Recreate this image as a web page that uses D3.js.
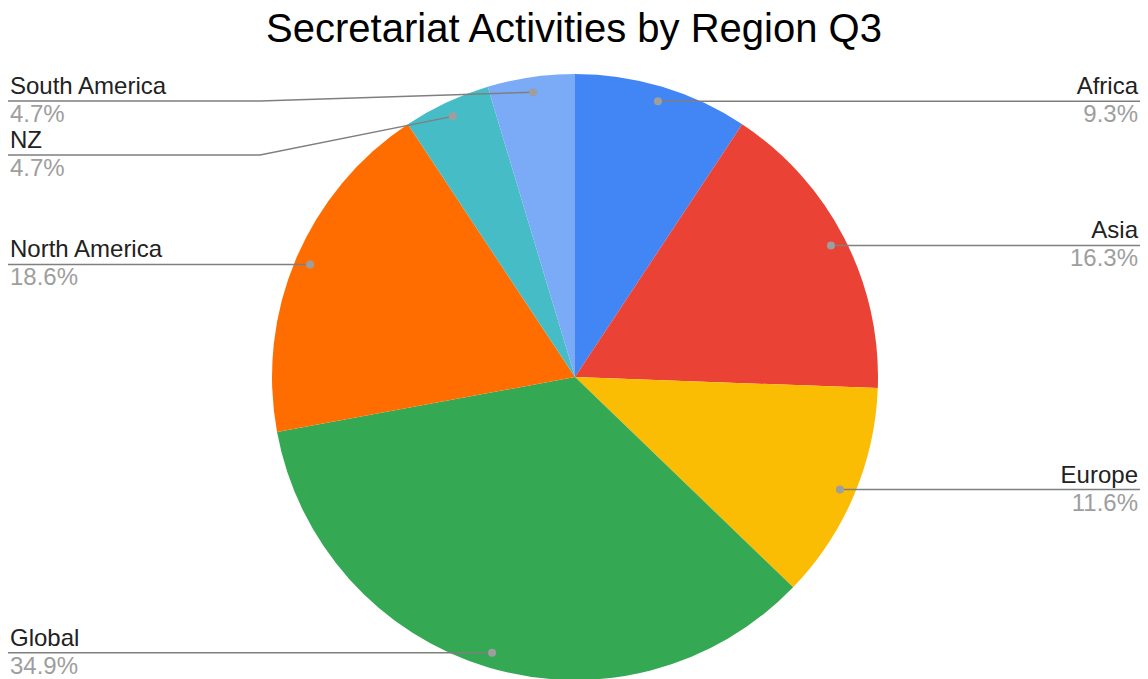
<!DOCTYPE html>
<html>
<head>
<meta charset="utf-8">
<script src="https://cdn.jsdelivr.net/npm/d3@7"></script>
<style>
  html, body { margin: 0; padding: 0; background: #fff; }
  svg { display: block; font-family: "Liberation Sans", Arial, sans-serif; }
</style>
</head>
<body>
<div id="chart"></div>
<script>
const regions = ['Africa', 'Asia', 'Europe', 'Global', 'North America', 'NZ', 'South America'];
const counts = [4, 7, 5, 15, 8, 2, 2];
const colors = ['#4285F4', '#EA4335', '#FBBC04', '#34A853', '#FF6D01', '#46BDC6', '#7BAAF7'];

const width = 1148;
const height = 679;
const cx = 575, cy = 377, radius = 303;

const svg = d3.select('#chart').append('svg')
  .attr('width', width)
  .attr('height', height);

svg.append('text')
  .attr('x', 574)
  .attr('y', 42)
  .attr('text-anchor', 'middle')
  .attr('font-size', 40)
  .attr('fill', '#000')
  .text('Secretariat Activities by Region Q3');

const data = regions.map((r, i) => ({ region: r, value: counts[i], color: colors[i] }));
const total = d3.sum(counts);

const pie = d3.pie().sort(null).value(d => d.value);
const arcs = pie(data);

const arc = d3.arc().innerRadius(0).outerRadius(radius);
const dotArc = d3.arc().innerRadius(radius * 0.95).outerRadius(radius * 0.95);

const g = svg.append('g').attr('transform', `translate(${cx},${cy})`);

g.selectAll('path.slice')
  .data(arcs)
  .join('path')
  .attr('class', 'slice')
  .attr('d', arc)
  .attr('fill', d => d.data.color);

// label layout: left / right columns, pushed down to avoid overlap
const fmt = d => (d.value / total * 100).toFixed(1) + '%';
const labels = arcs.map(d => {
  const [dx, dy] = dotArc.centroid(d);
  const mid = (d.startAngle + d.endAngle) / 2;
  return { d, x: cx + dx, y: cy + dy, side: mid > Math.PI ? 'left' : 'right' };
});

['left', 'right'].forEach(side => {
  const list = labels.filter(l => l.side === side).sort((a, b) => a.y - b.y);
  let prev = -Infinity;
  list.forEach(l => {
    l.ly = Math.max(l.y, prev + 54, 101);
    prev = l.ly;
  });
});

const lg = svg.append('g');
const bendX = 260;

labels.forEach(l => {
  let pts;
  if (l.side === 'left') {
    pts = l.ly === l.y ? [[8, l.ly], [l.x, l.y]] : [[8, l.ly], [bendX, l.ly], [l.x, l.y]];
  } else {
    pts = [[l.x, l.y], [1140, l.ly]];
  }
  lg.append('path')
    .attr('d', d3.line()(pts))
    .attr('fill', 'none')
    .attr('stroke', '#7f7f7f')
    .attr('stroke-width', 1.5);

  lg.append('circle')
    .attr('cx', l.x)
    .attr('cy', l.y)
    .attr('r', 4)
    .attr('fill', '#9e9e9e');

  const tx = l.side === 'left' ? 10 : 1138;
  const anchor = l.side === 'left' ? 'start' : 'end';
  lg.append('text')
    .attr('x', tx)
    .attr('y', l.ly - 7)
    .attr('text-anchor', anchor)
    .attr('font-size', 24)
    .attr('fill', '#222')
    .text(l.d.data.region);
  lg.append('text')
    .attr('x', tx)
    .attr('y', l.ly + 21)
    .attr('text-anchor', anchor)
    .attr('font-size', 24)
    .attr('fill', '#9e9e9e')
    .text(fmt(l.d.data));
});
</script>
</body>
</html>
